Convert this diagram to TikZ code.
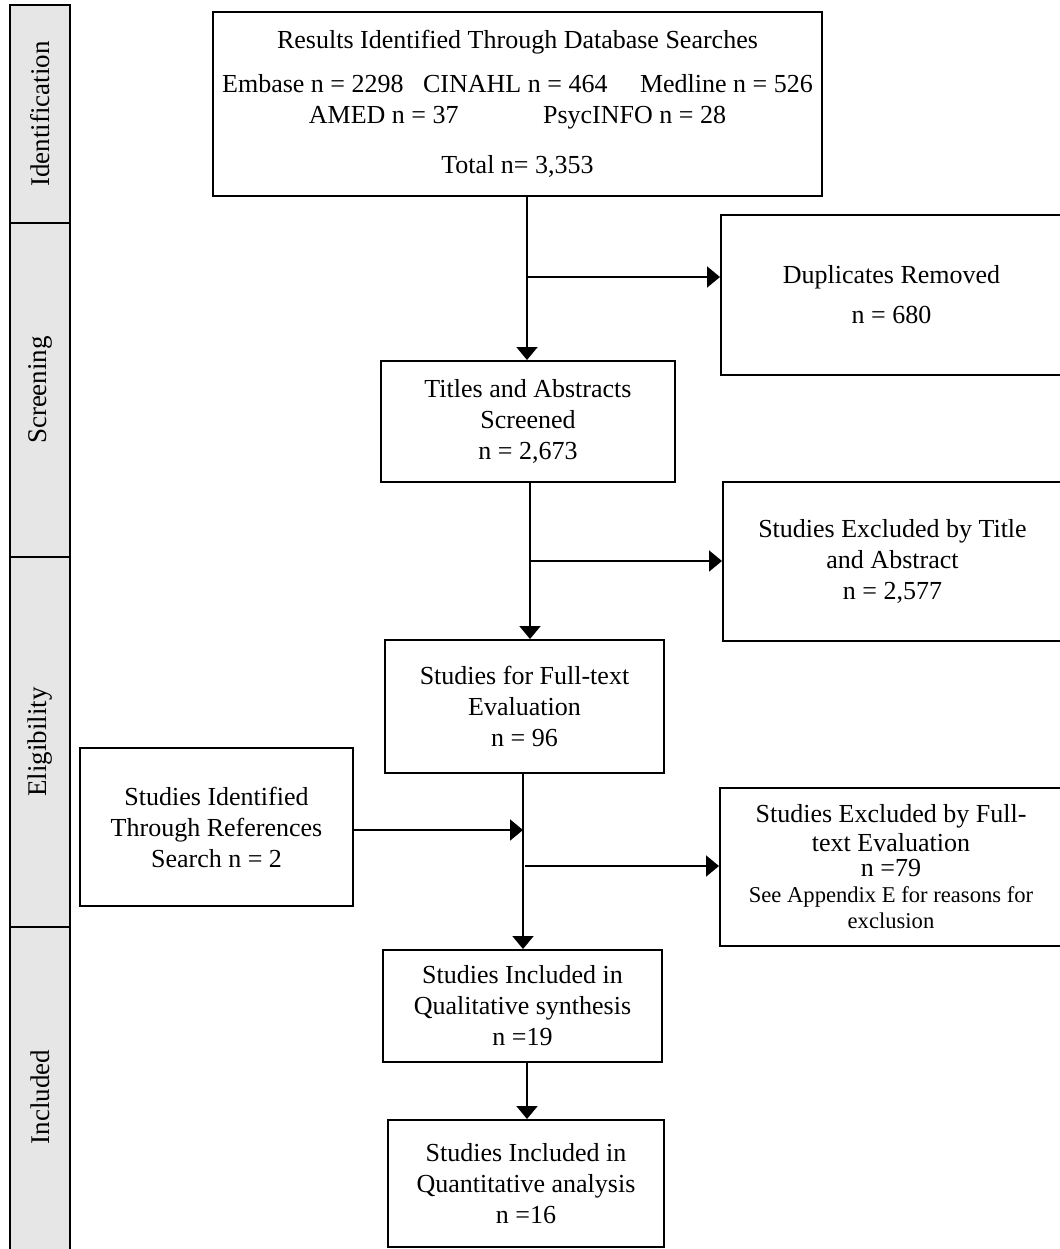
\documentclass[tikz,border=0pt]{standalone}
\usepackage{fontspec}
\setmainfont{Liberation Serif}
\usepackage{tikz}
\usetikzlibrary{positioning,arrows.meta}
\definecolor{phasegray}{RGB}{230, 230, 230}
\newcommand{\smalltxt}{\fontsize{11.3}{12.5}\selectfont}

\begin{document}
\begin{tikzpicture}[x=0.5pt, y=-0.5pt,
        box/.style={draw, line width=1pt, align=center, inner sep=0pt, font=\fontsize{13}{15.5}\selectfont},
        phase/.style={draw, line width=1pt, fill=phasegray, rotate=90, inner sep=0pt, minimum height=30pt, font=\fontsize{13.5}{15.5}\selectfont},
        arr/.style={line width=1pt, -{Triangle[length=6.5pt, width=10.5pt]}}]
        \useasboundingbox (0,0) rectangle (1060,1249);

        \node[phase, minimum width=109pt] (ident) at (40,114) {Identification};
        \node[phase, minimum width=167pt] (screen) at (40,390) {Screening};
        \node[phase, minimum width=185pt] (elig) at (40,742) {Eligibility};
        \node[phase, minimum width=170pt] (incl) at (40,1097) {Included};

        \node[box, minimum width=304.5pt, minimum height=92pt] (search) at (517.5,104) {Results Identified Through Database Searches\\[6.5pt]
            Embase n = 2298\enspace\ CINAHL n = 464\quad\ Medline n = 526\\
            AMED n = 37\qquad\quad\ PsycINFO n = 28\\[9.5pt]
            Total n= 3,353};
        \node[box, minimum width=170.5pt, minimum height=80pt] (dup) at (891.5,295) {Duplicates Removed\\[4.5pt] n = 680};
        \node[box, minimum width=147pt, minimum height=60.5pt] (titles) at (528,421.5) {Titles and Abstracts\\ Screened\\ n = 2,673};
        \node[box, minimum width=169.5pt, minimum height=79.5pt] (extitle) at (892.5,561.5) {Studies Excluded by Title\\ and Abstract\\ n = 2,577};
        \node[box, minimum width=139.5pt, minimum height=66.5pt] (fulltext) at (524.5,706.5) {Studies for Full-text\\ Evaluation\\ n = 96};
        \node[box, minimum width=136.5pt, minimum height=79pt] (refs) at (216.5,827) {Studies Identified\\ Through References\\ Search n = 2};
        \node[box, minimum width=171pt, minimum height=79pt] (exfull) at (891,867) {Studies Excluded by Full-\\[-1pt] text Evaluation\\[-3pt] n =79\\[-2.5pt]
            \smalltxt See Appendix E for reasons for\\[-2.5pt] \smalltxt exclusion};
        \node[box, minimum width=139.5pt, minimum height=56pt] (qual) at (522.5,1006) {Studies Included in\\ Qualitative synthesis\\ n =19};
        \node[box, minimum width=138pt, minimum height=63.5pt] (quant) at (526,1183.5) {Studies Included in\\ Quantitative analysis\\ n =16};

        \coordinate (s1) at (527,277);
        \coordinate (s2) at (530,561);
        \coordinate (s3) at (523,830);
        \coordinate (s4) at (525,866);
        \coordinate (s5) at (527,1090);

        \draw[arr] (search.south -| s1) -- (titles.north -| s1);
        \draw[arr] (s1) -- (s1 -| dup.west);
        \draw[arr] (titles.south -| s2) -- (fulltext.north -| s2);
        \draw[arr] (s2) -- (s2 -| extitle.west);
        \draw[arr] (fulltext.south -| s3) -- (qual.north -| s3);
        \draw[arr] (refs.east |- s3) -- (s3);
        \draw[arr] (s4) -- (s4 -| exfull.west);
        \draw[arr] (qual.south -| s5) -- (quant.north -| s5);
    \end{tikzpicture}
\end{document}
